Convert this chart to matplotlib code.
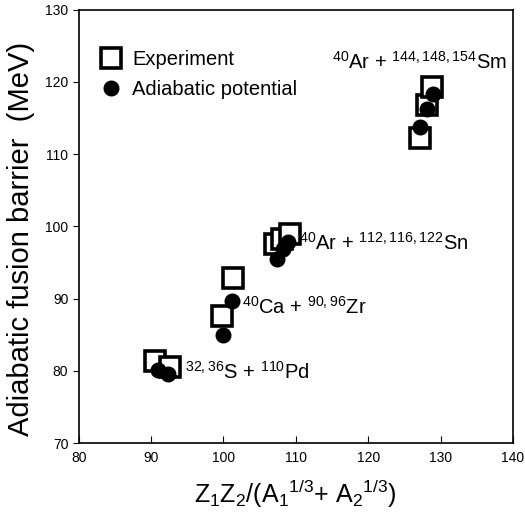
import matplotlib
matplotlib.use("Agg")
import matplotlib.pyplot as plt

plt.rcParams['font.family'] = ['Liberation Sans', 'DejaVu Sans']
plt.rcParams['mathtext.default'] = 'regular'

# Experiment (squares)
exp_x = [90.5, 92.6, 99.8, 101.3, 107.1, 108.1, 109.2, 127.2, 128.1, 128.8]
exp_y = [81.3, 80.6, 87.6, 92.8, 97.5, 98.3, 99.0, 112.3, 116.8, 119.3]
# Adiabatic potential (circles)
adi_x = [90.9, 92.3, 99.9, 101.2, 107.4, 108.2, 108.9, 127.2, 128.1, 129.0]
adi_y = [80.1, 79.6, 84.9, 89.7, 95.5, 96.9, 97.9, 113.7, 116.3, 118.4]

xticks = [80, 90, 100, 110, 120, 130, 140]
yticks = [70, 80, 90, 100, 110, 120, 130]

labels = [r'$^{32,36}$S + $^{110}$Pd', r'$^{40}$Ca + $^{90,96}$Zr',
          r'$^{40}$Ar + $^{112,116,122}$Sn', r'$^{40}$Ar + $^{144,148,154}$Sm']
label_pos = [(94.7, 79.9), (102.5, 88.8), (110.5, 97.7), (115.0, 122.8)]

fig = plt.figure(figsize=(5.25, 5.14), dpi=100)
ax = fig.add_axes([0.150, 0.138, 0.827, 0.843])

ax.plot(exp_x, exp_y, linestyle='none', marker='s', markersize=14.5,
        markerfacecolor='white', markeredgecolor='black', markeredgewidth=2.6,
        label='Experiment')
ax.plot(adi_x, adi_y, linestyle='none', marker='o', markersize=10.5,
        markerfacecolor='black', markeredgecolor='black', label='Adiabatic potential')

for t, (lx, ly) in zip(labels, label_pos):
    ax.text(lx, ly, t, fontsize=14.5, ha='left', va='center')

ax.set_xlim(80, 140)
ax.set_ylim(70, 130)
ax.set_xticks(xticks)
ax.set_yticks(yticks)
ax.tick_params(axis='x', direction='in', length=5, labelsize=10, pad=6, top=False)
ax.tick_params(axis='y', direction='out', length=4, labelsize=10, right=False)
for s in ax.spines.values():
    s.set_linewidth(1.2)

ax.set_xlabel(r'Z$_1$Z$_2$/(A$_1$$^{1/3}$+ A$_2$$^{1/3}$)', fontsize=18, labelpad=9)
ax.set_ylabel('Adiabatic fusion barrier  (MeV)', fontsize=21)
ax.yaxis.set_label_coords(-0.1, 0.47)

ax.legend(loc='upper left', bbox_to_anchor=(0.0, 0.945), frameon=False, fontsize=14.5,
          handletextpad=0.25, borderaxespad=0.4, labelspacing=0.55, handlelength=1.6)

fig.savefig('out.png', dpi=100)
